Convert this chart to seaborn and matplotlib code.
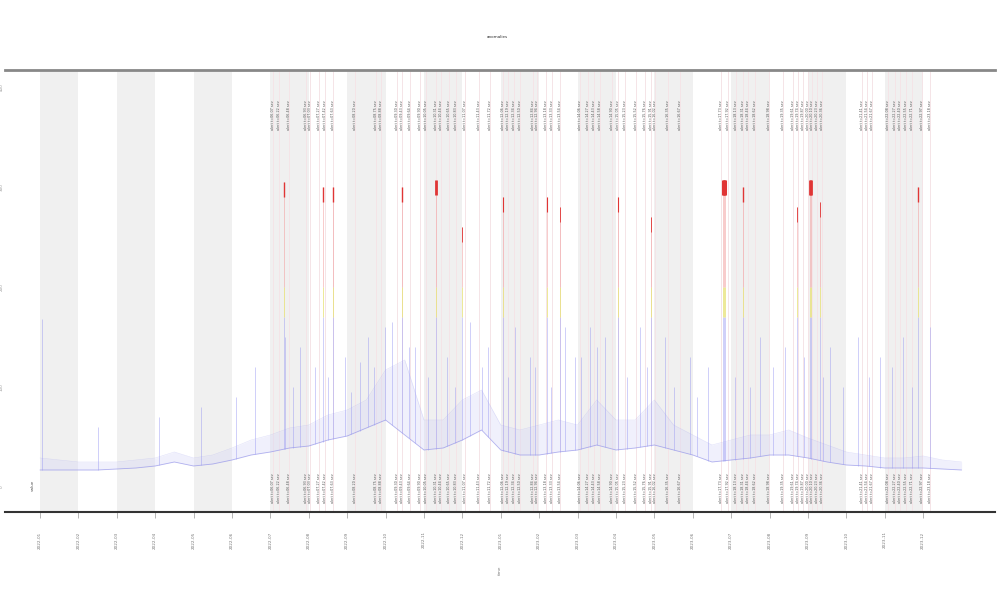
import numpy as np
import pandas as pd
import seaborn as sns
import matplotlib.pyplot as plt

# ---- data ----
grid_t = [0, 0.5, 1, 1.5, 2, 2.5, 3, 3.5, 4, 4.5, 5, 5.5, 6, 6.5, 7, 7.5, 8, 8.5,
          9, 9.5, 10, 10.5, 11, 11.5, 12, 12.5, 13, 13.5, 14, 14.5, 15, 15.5, 16,
          16.5, 17, 17.5, 18, 18.5, 19, 19.5, 20, 20.5, 21, 21.5, 22, 22.5, 23, 23.5, 24]
low = [17, 17, 17, 17, 18, 19, 21, 25, 21, 23, 27, 32, 35, 39, 41, 47, 51, 59, 67, 52,
       37, 39, 47, 57, 37, 32, 32, 35, 37, 42, 37, 39, 42, 37, 32, 25, 27, 29, 32, 32,
       29, 25, 22, 21, 19, 19, 19, 18, 17]
up = [29, 27, 25, 25, 25, 27, 29, 35, 29, 32, 39, 47, 52, 59, 62, 72, 77, 87, 117, 127,
      67, 67, 87, 97, 62, 57, 62, 67, 62, 87, 67, 67, 87, 62, 52, 42, 47, 52, 52, 57,
      49, 42, 35, 32, 29, 29, 31, 27, 25]

# spikes: position, peak level, width of the red cap (0 = none)
spike_x = [0.05, 1.5, 3.1, 4.2, 5.1, 5.6, 6.38, 6.77, 7.16, 7.94, 8.33, 8.54, 8.98,
           9.17, 9.77, 10.60, 11.20, 11.67, 12.37, 12.76, 13.67, 13.93, 14.32, 14.71,
           15.63, 16.28, 16.93, 17.40, 18.75, 19.40, 20.57, 21.30, 21.88, 22.47, 23.18,
           6.6, 7.5, 8.1, 8.7, 9.6, 10.1, 10.8, 11.5, 12.2, 12.9, 13.3, 14.1, 14.5,
           15.3, 15.8, 16.5, 17.1, 18.1, 18.5, 19.1, 19.9, 20.4, 20.9, 21.6, 22.2, 22.7,
           6.35, 7.37, 7.63, 9.43, 10.31, 10.99, 12.06, 13.20, 13.54, 15.05, 15.91,
           17.78, 17.81, 17.84, 18.31, 19.71, 20.05, 20.08, 20.31, 22.86]
spike_peak = [168, 60, 70, 80, 90, 120, 150, 140, 120, 130, 125, 150, 160,
              165, 140, 130, 165, 140, 160, 130, 160, 130, 160, 150,
              160, 150, 130, 120, 150, 140, 140, 150, 130, 150, 160,
              100, 110, 95, 120, 140, 110, 100, 120, 110, 120, 100, 130, 140,
              110, 120, 100, 90, 110, 100, 120, 130, 110, 100, 110, 120, 100,
              305, 300, 300, 300, 307, 260, 290, 290, 280, 290, 270,
              307, 307, 307, 300, 280, 307, 307, 285, 300]
spike_mark = [0] * 61 + [1.0, 1.0, 1.0, 1.0, 2.0, 0.6, 0.8, 0.8, 0.6, 0.8, 0.6,
                         2.2, 2.2, 2.2, 1.0, 0.6, 2.0, 2.0, 0.6, 1.0]

event_x = [6.07, 6.22, 6.48, 6.93, 7.03, 7.27, 7.42, 7.63, 8.20, 8.75, 8.88, 9.30,
           9.43, 9.64, 9.90, 10.05, 10.31, 10.44, 10.65, 10.83, 11.07, 11.43, 11.72,
           12.06, 12.19, 12.34, 12.50, 12.84, 12.94, 13.18, 13.33, 13.54, 14.06, 14.27,
           14.43, 14.58, 14.90, 15.05, 15.23, 15.52, 15.76, 15.91, 16.02, 16.35, 16.67,
           17.73, 17.92, 18.13, 18.31, 18.44, 18.62, 18.98, 19.35, 19.61, 19.74, 19.87,
           20.00, 20.10, 20.23, 20.36, 21.41, 21.54, 21.67, 22.08, 22.27, 22.40, 22.55,
           22.71, 22.97, 23.18]

tick_labels = ['2022-01', '2022-02', '2022-03', '2022-04', '2022-05', '2022-06',
               '2022-07', '2022-08', '2022-09', '2022-10', '2022-11', '2022-12',
               '2023-01', '2023-02', '2023-03', '2023-04', '2023-05', '2023-06',
               '2023-07', '2023-08', '2023-09', '2023-10', '2023-11', '2023-12']

df = pd.DataFrame({'t': grid_t, 'low': low, 'up': up})

# ---- style ----
sns.set_theme(style='white')
plt.rcParams['font.family'] = ['DejaVu Sans']

fig, ax = plt.subplots(figsize=(10, 6), dpi=100)
fig.subplots_adjust(left=0.005, right=0.995, bottom=0.1467, top=0.8833)

# alternating month bands
for k in range(0, 24, 2):
    ax.axvspan(k, k + 1, color='#f0f0f0', lw=0, zorder=0)

# event markers
for x in event_x:
    ax.axvline(x, color='#f5e4e7', lw=0.7, zorder=1)

# metric band + lines
ax.fill_between(df['t'], df['low'], df['up'], color='#d4d4f7', alpha=0.35, lw=0, zorder=2)
sns.lineplot(data=df, x='t', y='low', color='#8585e6', lw=0.6, alpha=0.6, ax=ax, zorder=3)
sns.lineplot(data=df, x='t', y='up', color='#a8a8f0', lw=0.4, alpha=0.35, ax=ax, zorder=3)

# spikes coloured by level
sx = np.array(spike_x)
sp = np.array(spike_peak)
sm = np.array(spike_mark)
base = np.interp(sx, df['t'], df['low'])
ax.vlines(sx, base, np.minimum(sp, 170), color='#9a9af2', lw=0.6, alpha=0.55, zorder=3)
m = sp > 170
ax.vlines(sx[m], 170, np.minimum(sp[m], 200), color='#e6df6a', lw=0.7, alpha=0.7, zorder=3)
m = sp > 200
ax.vlines(sx[m], 200, sp[m], color='#f29a9a', lw=0.6, alpha=0.6, zorder=3)
m = sm > 0
for x, p, w in zip(sx[m], sp[m], sm[m]):
    ax.vlines(x, p - 15, p, color='#e03535', lw=w, zorder=4)

# event labels top and bottom
for x in event_x:
    lab = f'alert t={x:05.2f} sev'
    ax.text(x, 372, lab, rotation=90, fontsize=2.4, ha='center', va='center',
            color='#555555', zorder=5)
    ax.text(x, -1, lab, rotation=90, fontsize=2.4, ha='center', va='center',
            color='#555555', zorder=5)

ax.text(-0.18, 2, 'value', rotation=90, fontsize=3, ha='center', va='center', color='#555555')

ax.set_xlim(-0.91, 24.87)
ax.set_ylim(-25, 417)
ax.set_xticks(range(24))
ax.set_xticklabels(tick_labels, rotation=90, fontsize=3, color='#777777')
ax.tick_params(axis='x', length=4, width=0.5, color='#999999', pad=10, bottom=True)
ax.set_yticks([0, 100, 200, 300, 400])
ax.set_yticklabels(['0', '100', '200', '300', '400'], rotation=90, fontsize=3,
                   color='#999999', va='center')
ax.tick_params(axis='y', length=0, pad=1)
ax.set_xlabel('time', fontsize=3, rotation=90, color='#777777', labelpad=12)
ax.set_ylabel('')

for s in ['left', 'right']:
    ax.spines[s].set_visible(False)
ax.spines['top'].set_color('#888888')
ax.spines['top'].set_linewidth(2)
ax.spines['bottom'].set_color('#333333')
ax.spines['bottom'].set_linewidth(1.5)

fig.text(0.497, 1 - 37 / 600, 'anomalies', fontsize=3, ha='center', va='center', color='#333333')

fig.savefig('out.png', dpi=100)
